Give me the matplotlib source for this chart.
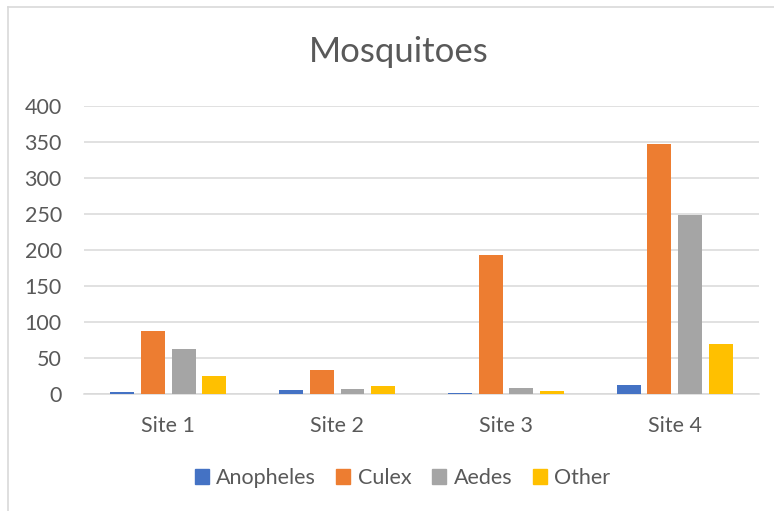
import numpy as np
import matplotlib.pyplot as plt
from matplotlib.lines import Line2D

sites = ["Site 1", "Site 2", "Site 3", "Site 4"]
species = ["Anopheles", "Culex", "Aedes", "Other"]
anopheles = [3, 6, 2, 12]
culex = [88, 33, 193, 347]
aedes = [63, 7, 8, 249]
other = [25, 11, 4, 70]
colors = ["#4472C4", "#ED7D31", "#A5A5A5", "#FFC000"]

text_col = "#595959"
grid_col = "#d9d9d9"

plt.rcParams["font.family"] = ["Lato", "DejaVu Sans"]

fig = plt.figure(figsize=(7.74, 5.11), dpi=100)
ax = fig.add_axes([84 / 774, 1 - 394 / 511, (759 - 84) / 774, (394 - 106) / 511])

x = np.arange(len(sites))
step = 0.182
width = 0.142
series = [anopheles, culex, aedes, other]
for i, (name, vals) in enumerate(zip(species, series)):
	offs = (i - 1.5) * step
	ax.bar(x + offs, vals, width=width, color=colors[i], label=name, zorder=3)

ax.set_xlim(-0.5, len(sites) - 0.5)
ax.set_ylim(0, 400)
ax.set_yticks(np.arange(0, 401, 50))
ax.set_xticks(x)
ax.set_xticklabels(sites)
ax.yaxis.grid(True, color=grid_col, lw=1.1, zorder=0)
ax.set_axisbelow(True)
for s in ["top", "right", "left"]:
	ax.spines[s].set_visible(False)
ax.spines["bottom"].set_color(grid_col)
ax.spines["bottom"].set_linewidth(1.1)
ax.tick_params(axis="both", length=0, labelsize=15.5, colors=text_col)
ax.tick_params(axis="x", pad=16)
ax.tick_params(axis="y", pad=16)

fig.text(0.515, 1 - 52 / 511, "Mosquitoes", ha="center", va="center", fontsize=25, color=text_col)

handles = [plt.Rectangle((0, 0), 1, 1, color=c) for c in colors]
leg = fig.legend(handles, species, loc="center", bbox_to_anchor=(0.52, 1 - 478 / 511), ncol=4,
	frameon=False, fontsize=15.5, handlelength=0.65, handleheight=0.65, handletextpad=0.35,
	columnspacing=0.95)
for t in leg.get_texts():
	t.set_color(text_col)

# chart border (top and left edges visible in the crop)
fig.add_artist(Line2D([8 / 774, 1], [1 - 7 / 511, 1 - 7 / 511], transform=fig.transFigure, color=grid_col, lw=1.2))
fig.add_artist(Line2D([8 / 774, 8 / 774], [0, 1 - 7 / 511], transform=fig.transFigure, color=grid_col, lw=1.2))

fig.savefig("out.png", dpi=100)
